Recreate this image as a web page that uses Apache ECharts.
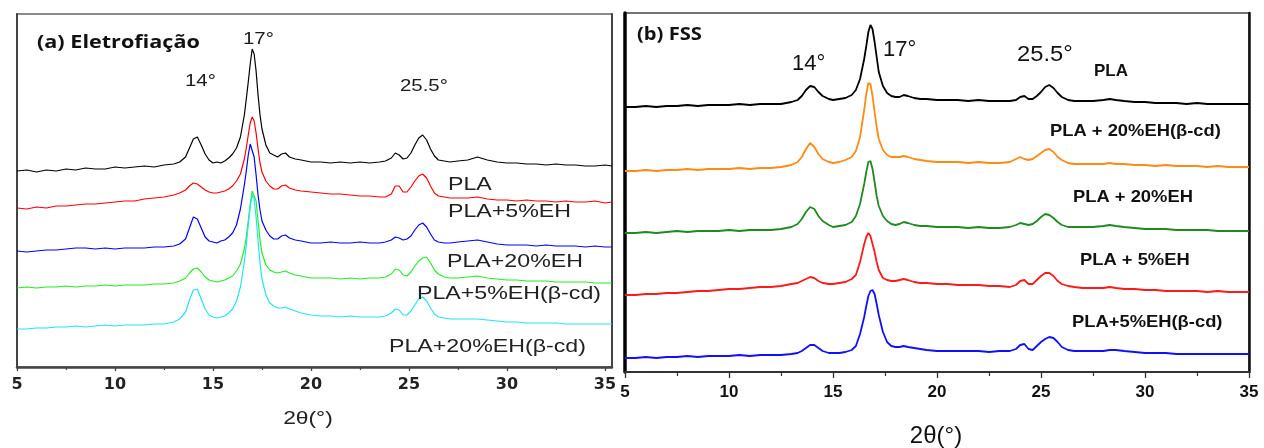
<!DOCTYPE html>
<html>
<head>
<meta charset="utf-8">
<script src="https://cdn.jsdelivr.net/npm/echarts@6/dist/echarts.min.js"></script>
<style>
  html, body { margin: 0; padding: 0; background: #fff; }
  #chart { width: 1264px; height: 448px; }
</style>
</head>
<body>
<div id="chart"></div>
<script>
// ---- (a) Eletrofiação : diffraction angle grid (2θ, degrees) ----
const twoThetaA = [
  5, 5.5, 6, 6.5, 7, 7.5, 8, 8.5, 9, 9.5, 10, 10.5, 11, 11.5, 12, 12.5, 13,
  13.3, 13.6, 13.8,
  14, 14.2, 14.4, 14.6, 14.8,
  15, 15.2, 15.4, 15.6, 15.8,
  16, 16.2, 16.4, 16.6,
  16.7, 16.8, 16.9, 17, 17.1, 17.2, 17.3, 17.4, 17.5,
  17.7, 17.9, 18.1, 18.3, 18.5, 18.7, 18.9,
  19.2, 19.5,
  20, 20.5, 21, 21.5, 22, 22.5, 23, 23.5,
  23.8, 24.1, 24.3, 24.5, 24.7, 24.9,
  25.1, 25.3, 25.5, 25.7, 25.9,
  26.1, 26.3, 26.5,
  26.8, 27.1, 27.5,
  28, 28.5, 29, 29.5, 30, 30.5, 31, 31.5, 32, 32.5, 33, 33.5, 34, 34.5, 35,
  35.35
];

// stacked intensities (a.u., offset per sample)
const plaA = [
  196, 197, 195, 197, 196, 198, 197, 199, 198, 198, 200, 199, 200, 201, 200, 202, 203,
  205, 210, 219,
  228, 230, 222, 213, 207,
  204, 205, 204, 206, 209,
  213, 219, 230, 252,
  268, 285, 303, 318, 313, 296, 272, 252, 238,
  222, 214, 212, 210, 213, 214, 210,
  208, 207,
  205, 205, 204, 205, 204, 205, 204, 205,
  206, 209, 214, 212, 208, 209,
  214, 222, 229, 232, 227,
  218, 211, 207,
  206, 205, 206,
  207, 210, 207, 205, 204, 204, 203, 203, 202, 203, 202, 202, 201, 201, 202,
  201
];
const pla5EhA = [
  159, 158, 160, 159, 161, 161, 162, 163, 163, 164, 165, 166, 166, 168, 169, 170, 172,
  174, 177, 181,
  184, 183, 180, 177, 175,
  174, 174, 175, 176, 178,
  181, 186, 193, 208,
  219, 232, 244, 250, 246, 234, 218, 204, 195,
  186, 181, 178, 178, 181, 182, 179,
  177, 176,
  175, 174, 173, 173, 172, 171, 171, 170,
  170, 173, 181, 181, 175, 175,
  180, 186, 191, 193, 189,
  181, 174, 171,
  170, 169, 169,
  169, 170, 168, 167, 167, 166, 167, 166, 166, 165, 166, 165, 165, 166, 164,
  165
];
const pla20EhA = [
  116, 115, 116, 117, 117, 118, 119, 119, 118, 119, 118, 119, 119, 119, 120, 120, 121,
  123, 128, 139,
  150, 148, 139, 130, 126,
  125, 124, 126, 127, 130,
  134, 142, 158, 182,
  196, 212, 223, 222, 210, 192, 172, 157, 146,
  137, 131, 128, 128, 131, 132, 129,
  127, 126,
  124, 124, 125, 124, 124, 125, 124, 124,
  125, 127, 130, 129, 127, 128,
  131, 137, 142, 144, 140,
  133, 127, 125,
  124, 124, 125,
  126, 127, 125, 123, 122, 122, 122, 121, 122, 121, 121, 121, 120, 121, 120,
  120
];
const pla5EhCdA = [
  79, 80, 79, 80, 80, 81, 80, 81, 81, 82, 81, 82, 82, 82, 83, 83, 84,
  86, 89, 94,
  98, 99, 95, 90, 87,
  86, 85, 86, 87, 89,
  91, 96, 103, 118,
  130, 146, 163, 176, 178, 166, 146, 127, 114,
  102, 97, 95, 94, 95, 96, 94,
  92, 91,
  89, 89, 89, 88, 89, 88, 89, 89,
  90, 93, 98, 97, 92, 91,
  95, 101, 106, 109, 110,
  104, 97, 93,
  90, 89, 89,
  90, 91, 89, 88, 87, 87, 86, 86, 86, 85, 85, 85, 85, 84, 84,
  84
];
const pla20EhCdA = [
  38, 38, 39, 39, 40, 40, 41, 40, 41, 42, 41, 42, 42, 42, 43, 43, 45,
  48, 55, 67,
  77, 78, 68, 58, 52,
  50, 49, 50, 51, 54,
  58, 66, 80, 105,
  122, 142, 160, 172, 168, 150, 126, 104, 88,
  72, 64, 61, 59, 59, 60, 58,
  56, 54,
  52, 51, 51, 50, 51, 50, 50, 50,
  51, 54, 58, 57, 52, 52,
  56, 62, 68, 70, 66,
  59, 53, 50,
  49, 48, 48,
  48, 48, 47, 46, 45, 45, 44, 44, 44, 44, 43, 43, 43, 43, 43,
  43
];

// ---- (b) FSS : diffraction angle grid (2θ, degrees) ----
const twoThetaB = [
  5, 5.5, 6, 6.5, 7, 7.5, 8, 8.5, 9, 9.5, 10, 10.5, 11, 11.5, 12, 12.5, 13,
  13.3, 13.5, 13.7, 13.9, 14.1, 14.3, 14.5, 14.8,
  15, 15.3, 15.6, 15.9,
  16.1, 16.3, 16.5,
  16.6, 16.7, 16.8, 16.9, 17, 17.1, 17.2,
  17.4, 17.6, 17.8, 18, 18.2, 18.4, 18.6, 18.9,
  19.2, 19.5,
  20, 20.5, 21, 21.5, 22, 22.5, 23, 23.5,
  23.8, 24, 24.2, 24.4, 24.6, 24.8,
  25, 25.2, 25.4, 25.6, 25.8, 26,
  26.3, 26.6, 27, 27.5,
  28, 28.3, 28.6, 29, 29.5,
  30, 30.5, 31, 31.5, 32, 32.5, 33, 33.5, 34, 34.5, 35
];
const plaB = [
  265, 265, 266, 265, 266, 266, 267, 266, 267, 267, 267, 268, 267, 268, 268, 268, 270,
  272, 276, 282, 286, 285, 280, 276, 273,
  272, 273, 274, 277,
  282, 293, 313,
  326, 340, 347, 343, 330, 315, 300,
  286, 279, 276, 275, 275, 277, 276, 274,
  273, 273,
  272, 272, 272, 271, 272, 271, 271, 271,
  272, 275, 276, 273, 273, 276,
  280, 285, 287, 284, 279, 275,
  272, 271, 271, 271,
  272, 273, 272, 271, 270,
  270, 269, 269, 269, 268, 269, 268, 268, 268, 268, 268
];
const pla20EhCdB = [
  201, 201, 202, 201, 202, 202, 203, 202, 203, 203, 203, 204, 203, 204, 204, 205, 207,
  210, 215, 223, 229, 225, 218, 213, 210,
  209, 210, 212, 215,
  221, 235, 262,
  278, 289, 288, 276, 260, 245, 233,
  222, 217, 215, 215, 215, 216, 215, 213,
  212, 211,
  210, 210, 210, 209, 210, 209, 209, 210,
  213, 215, 213, 212, 213, 216,
  219, 222, 223, 220, 215, 212,
  209, 208, 208, 208,
  208, 209, 208, 208, 207,
  207, 206, 207, 206, 206, 206, 205, 206, 205, 205, 205
];
const pla20EhB = [
  139, 139, 140, 139, 140, 141, 140, 141, 141, 141, 142, 141, 142, 142, 142, 143, 145,
  148, 153, 160, 165, 163, 156, 151, 147,
  145, 146, 147, 150,
  156, 168, 188,
  200, 210, 211, 203, 190, 176, 166,
  156, 151, 148, 147, 148, 150, 149, 147,
  146, 146,
  145, 145, 145, 144, 145, 144, 144, 145,
  147, 149, 148, 147, 148, 151,
  155, 158, 157, 154, 150, 147,
  145, 145, 145, 145,
  146, 147, 146, 145, 144,
  143, 143, 143, 142, 142, 142, 142, 141, 141, 141, 141
];
const pla5EhB = [
  77, 77, 78, 78, 79, 79, 80, 81, 81, 82, 83, 83, 84, 85, 85, 86, 88,
  89, 91, 93, 95, 94, 91, 89, 88,
  88, 89, 90, 93,
  97, 110, 128,
  135, 139, 136, 128, 120, 110, 102,
  94, 92, 91, 91, 92, 93, 92, 90,
  89, 89,
  88, 88, 87, 87, 87, 86, 86, 85,
  87, 91, 92, 88, 88, 92,
  96, 99, 99, 96, 91, 88,
  86, 85, 84, 84,
  84, 85, 84, 83, 83,
  82, 82, 81, 81, 81, 81, 80, 81, 80, 80, 80
];
const pla5EhCdB = [
  14, 14, 15, 14, 15, 15, 16, 15, 16, 16, 16, 17, 16, 17, 17, 17, 18,
  19, 21, 24, 27, 27, 24, 21, 19,
  19, 19, 20, 22,
  26, 38, 55,
  66, 76, 81, 82, 78, 68, 57,
  40, 30, 26, 25, 25, 26, 25, 24,
  23, 22,
  21, 21, 21, 21, 21, 20, 21, 21,
  23, 27, 28, 23, 22, 26,
  30, 33, 35, 34, 30, 25,
  22, 21, 21, 21,
  21, 22, 22, 21, 20,
  19, 19, 19, 18, 18, 18, 18, 18, 18, 18, 18
];

const tickValues = [5, 10, 15, 20, 25, 30, 35];
const minorTickValues = [7.5, 12.5, 17.5, 22.5, 27.5, 32.5];

const ARIAL = '"Liberation Sans", Arial, Helvetica, sans-serif';

function pairs(xs, ys) { return xs.map((x, i) => [x, ys[i]]); }

function trace(name, xs, ys, color, width, gridIdx) {
  return {
    name, type: 'line', xAxisIndex: gridIdx * 2, yAxisIndex: gridIdx * 2,
    data: pairs(xs, ys), showSymbol: false, symbol: 'none', silent: true,
    lineStyle: { color, width }, z: 3
  };
}

function text(str, x, y, size, opts) {
  opts = opts || {};
  return {
    type: 'text', x, y, silent: true, scaleX: opts.scaleX || 1, z: 10,
    style: {
      text: str, fill: opts.fill || '#1a1a1a',
      fontSize: size, fontWeight: opts.weight || 'normal',
      fontFamily: opts.family || ARIAL,
      align: opts.align || 'left', verticalAlign: 'middle'
    }
  };
}

function mainX(gridIndex, max, labelStyle, lineStyle, tickLen) {
  return {
    gridIndex, type: 'value', position: 'bottom', min: 5, max,
    axisLine: { show: true, onZero: false, lineStyle },
    axisTick: { show: true, inside: false, length: tickLen, customValues: tickValues,
      lineStyle: { color: lineStyle.color, width: 1.3 } },
    axisLabel: Object.assign({ show: true, customValues: tickValues }, labelStyle),
    splitLine: { show: false }
  };
}
function minorX(gridIndex, max, color, tickLen) {
  return {
    gridIndex, type: 'value', position: 'bottom', min: 5, max,
    axisLine: { show: false },
    axisTick: { show: true, inside: false, length: tickLen, customValues: minorTickValues,
      lineStyle: { color, width: 1.2 } },
    axisLabel: { show: false },
    splitLine: { show: false }
  };
}
function sideY(gridIndex, max, position, color, width) {
  return {
    gridIndex, type: 'value', position, min: 0, max,
    axisLine: { show: true, onZero: false, lineStyle: { color, width } },
    axisTick: { show: false }, axisLabel: { show: false }, splitLine: { show: false }
  };
}

const chart = echarts.init(document.getElementById('chart'), null, { renderer: 'canvas' });

const option = {
  animation: false,
  backgroundColor: '#ffffff',
  grid: [
    { left: 17, top: 14, width: 595, height: 353, show: true, borderColor: '#666', borderWidth: 1.5 },
    { left: 625, top: 13, width: 624, height: 359, show: true, borderColor: '#444', borderWidth: 1.5 }
  ],
  xAxis: [
    mainX(0, 35.36,
      { fontFamily: '"DejaVu Sans", Verdana, sans-serif', fontWeight: 'bold', fontSize: 16, color: '#222', margin: 10 },
      { color: '#444', width: 2.5 }, 4),
    minorX(0, 35.36, '#444', 3),
    mainX(1, 35,
      { fontFamily: ARIAL, fontWeight: 'bold', fontSize: 17, color: '#111', margin: 12 },
      { color: '#333', width: 2 }, 6),
    minorX(1, 35, '#333', 4)
  ],
  yAxis: [
    sideY(0, 353, 'left', '#444', 2),
    sideY(0, 353, 'right', '#444', 2),
    sideY(1, 359, 'left', '#000', 3.5),
    sideY(1, 359, 'right', '#111', 2.5)
  ],
  series: [
    trace('PLA', twoThetaA, plaA, '#000000', 1.2, 0),
    trace('PLA+5%EH', twoThetaA, pla5EhA, '#ff0000', 1.2, 0),
    trace('PLA+20%EH', twoThetaA, pla20EhA, '#0000ff', 1.2, 0),
    trace('PLA+5%EH(β-cd)', twoThetaA, pla5EhCdA, '#22ee22', 1.2, 0),
    trace('PLA+20%EH(β-cd)', twoThetaA, pla20EhCdA, '#22e4f4', 1.2, 0),

    trace('PLA', twoThetaB, plaB, '#000000', 1.8, 1),
    trace('PLA + 20%EH(β-cd)', twoThetaB, pla20EhCdB, '#ff8a14', 1.8, 1),
    trace('PLA + 20%EH', twoThetaB, pla20EhB, '#1f8a1f', 1.8, 1),
    trace('PLA + 5%EH', twoThetaB, pla5EhB, '#ff1a1a', 1.8, 1),
    trace('PLA+5%EH(β-cd)', twoThetaB, pla5EhCdB, '#1010ff', 1.8, 1)
  ],
  graphic: [
    // panel (a)
    text('(a) Eletrofiação', 37, 43, 18, { weight: 'bold', family: '"Open Sans", sans-serif', scaleX: 1.2, fill: '#111' }),
    text('17°', 243, 39, 17, { scaleX: 1.2 }),
    text('14°', 185, 81, 17, { scaleX: 1.2 }),
    text('25.5°', 400, 86, 17, { scaleX: 1.2 }),
    text('PLA', 448, 185, 19, { scaleX: 1.22, fill: '#222' }),
    text('PLA+5%EH', 448, 212, 19, { scaleX: 1.22, fill: '#222' }),
    text('PLA+20%EH', 447, 262, 19, { scaleX: 1.22, fill: '#222' }),
    text('PLA+5%EH(β-cd)', 417, 294, 19, { scaleX: 1.22, fill: '#222' }),
    text('PLA+20%EH(β-cd)', 389, 347, 19, { scaleX: 1.22, fill: '#222' }),
    text('2θ(°)', 308, 419, 19, { scaleX: 1.2, align: 'center', fill: '#222' }),
    // panel (b)
    text('(b) FSS', 637, 35, 18, { weight: 'bold', family: '"Open Sans", sans-serif', scaleX: 1.12, fill: '#111' }),
    text('14°', 792, 64, 22, { fill: '#111' }),
    text('17°', 883, 50, 22, { fill: '#111' }),
    text('25.5°', 1017, 55, 22, { scaleX: 1.08, fill: '#111' }),
    text('PLA', 1094, 71, 17, { weight: 'bold', fill: '#111' }),
    text('PLA + 20%EH(β-cd)', 1050, 131, 17, { weight: 'bold', scaleX: 1.08, fill: '#111' }),
    text('PLA + 20%EH', 1073, 197, 17, { weight: 'bold', scaleX: 1.08, fill: '#111' }),
    text('PLA + 5%EH', 1080, 260, 17, { weight: 'bold', scaleX: 1.08, fill: '#111' }),
    text('PLA+5%EH(β-cd)', 1072, 322, 17, { weight: 'bold', scaleX: 1.08, fill: '#111' }),
    text('2θ(°)', 936, 436, 24, { align: 'center', fill: '#111' })
  ]
};

chart.setOption(option);
</script>
</body>
</html>
